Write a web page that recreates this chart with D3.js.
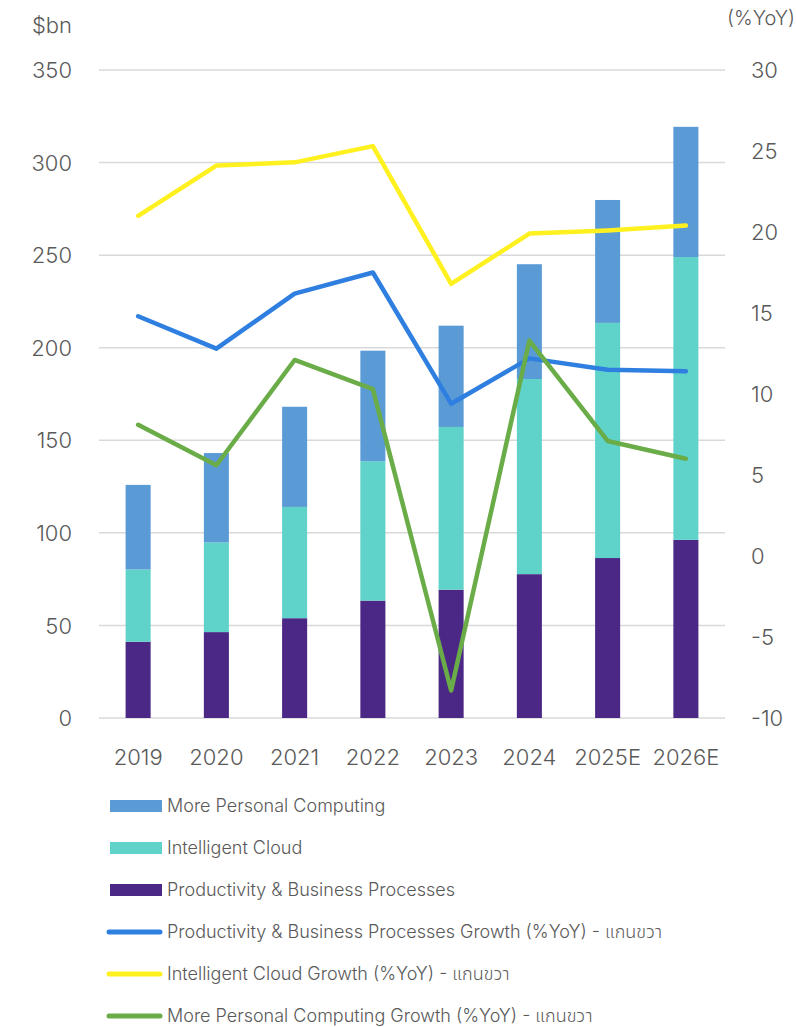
<!DOCTYPE html>
<html>
<head>
<meta charset="utf-8">
<script src="https://cdn.jsdelivr.net/npm/d3@7"></script>
<style>
  body { margin: 0; background: #fff; }
  text { font-family: Inter, "Noto Sans", "Noto Sans Thai", "DejaVu Sans", sans-serif; fill: #595959; font-weight: 300; }
</style>
</head>
<body>
<script>
// data
const years = ['2019', '2020', '2021', '2022', '2023', '2024', '2025E', '2026E']
const pbp = [41.2, 46.4, 53.9, 63.4, 69.3, 77.7, 86.4, 96.2]
const cloud = [39.0, 48.4, 60.1, 75.3, 87.9, 105.4, 127.0, 152.8]
const mpc = [45.7, 48.3, 54.1, 59.7, 54.7, 62.0, 66.4, 70.3]
const pbpGrowth = [14.8, 12.8, 16.2, 17.5, 9.4, 12.2, 11.5, 11.4]
const cloudGrowth = [21.0, 24.1, 24.3, 25.3, 16.8, 19.9, 20.1, 20.4]
const mpcGrowth = [8.1, 5.6, 12.1, 10.3, -8.3, 13.3, 7.1, 6.0]
const leftTicks = [0, 50, 100, 150, 200, 250, 300, 350]
const rightTicks = [-10, -5, 0, 5, 10, 15, 20, 25, 30]

const colors = { mpc: '#5b9bd5', cloud: '#5fd3ca', pbp: '#4b2885',
    pbpG: '#2f7fe0', cloudG: '#fff01f', mpcG: '#6aac47' }

function main(){
    var width = 796
    var height = 1027

    let svg = d3.select('body')
        .append('svg')
        .attr('width', width)
        .attr('height', height)

    let xScale = d3.scaleBand()
        .domain(years)
        .range([99, 725])
        .paddingInner(0.68)
        .paddingOuter(0.34)

    let yLeft = d3.scaleLinear().domain([0, 350]).range([718, 70])
    let yRight = d3.scaleLinear().domain([-10, 30]).range([718, 70])

    // gridlines
    svg.append('g')
        .selectAll('line')
        .data(leftTicks)
        .enter()
        .append('line')
        .attr('x1', 99)
        .attr('x2', 725)
        .attr('y1', d => yLeft(d))
        .attr('y2', d => yLeft(d))
        .attr('stroke', '#d9d9d9')
        .attr('stroke-width', 1.5)

    // axes
    let leftAxis = svg.append('g')
        .attr('transform', 'translate(72,0)')
        .call(d3.axisLeft(yLeft).tickValues(leftTicks).tickSize(0).tickPadding(0))
    leftAxis.select('.domain').remove()
    leftAxis.selectAll('text').attr('font-size', 22).attr('dy', '0.35em')

    let rightAxis = svg.append('g')
        .attr('transform', 'translate(751,0)')
        .call(d3.axisRight(yRight).tickValues(rightTicks).tickSize(0).tickPadding(0)
            .tickFormat(d => String(d)))
    rightAxis.select('.domain').remove()
    rightAxis.selectAll('text').attr('font-size', 22).attr('dy', '0.35em')

    let xAxis = svg.append('g')
        .attr('transform', 'translate(0,718)')
        .call(d3.axisBottom(xScale).tickSize(0).tickPadding(0))
    xAxis.select('.domain').remove()
    xAxis.selectAll('text').attr('font-size', 22).attr('dy', '47')

    svg.append('text').attr('x', 72).attr('y', 33).attr('text-anchor', 'end')
        .attr('font-size', 22).text('$bn')
    svg.append('text').attr('x', 795).attr('y', 25).attr('text-anchor', 'end')
        .attr('font-size', 20).text('(%YoY)')

    // stacked bars
    const rows = years.map((y, i) => ({ year: y, pbp: pbp[i], cloud: cloud[i], mpc: mpc[i] }))
    const stack = d3.stack().keys(['pbp', 'cloud', 'mpc'])(rows)

    svg.append('g')
        .selectAll('g')
        .data(stack)
        .enter()
        .append('g')
        .attr('fill', d => colors[d.key])
        .selectAll('rect')
        .data(d => d)
        .enter()
        .append('rect')
        .attr('x', d => xScale(d.data.year))
        .attr('width', xScale.bandwidth())
        .attr('y', d => yLeft(d[1]))
        .attr('height', d => yLeft(d[0]) - yLeft(d[1]))

    // growth lines on right axis
    const line = d3.line()
        .x((d, i) => xScale(years[i]) + xScale.bandwidth() / 2)
        .y(d => yRight(d))

    const series = [
        { vals: pbpGrowth, color: colors.pbpG },
        { vals: cloudGrowth, color: colors.cloudG },
        { vals: mpcGrowth, color: colors.mpcG }
    ]
    svg.append('g')
        .selectAll('path')
        .data(series)
        .enter()
        .append('path')
        .attr('d', d => line(d.vals))
        .attr('fill', 'none')
        .attr('stroke', d => d.color)
        .attr('stroke-width', 4.5)
        .attr('stroke-linejoin', 'round')
        .attr('stroke-linecap', 'round')

    // legend
    const legendItems = [
        { label: 'More Personal Computing', color: colors.mpc, type: 'bar' },
        { label: 'Intelligent Cloud', color: colors.cloud, type: 'bar' },
        { label: 'Productivity & Business Processes', color: colors.pbp, type: 'bar' },
        { label: 'Productivity & Business Processes Growth (%YoY) - แกนขวา', color: colors.pbpG, type: 'line' },
        { label: 'Intelligent Cloud Growth (%YoY) - แกนขวา', color: colors.cloudG, type: 'line' },
        { label: 'More Personal Computing Growth (%YoY) - แกนขวา', color: colors.mpcG, type: 'line' }
    ]
    const lg = svg.append('g')
        .selectAll('g')
        .data(legendItems)
        .enter()
        .append('g')
        .attr('transform', (d, i) => `translate(0,${806 + i * 42})`)

    lg.filter(d => d.type == 'bar')
        .append('rect')
        .attr('x', 110).attr('y', -6)
        .attr('width', 52).attr('height', 12)
        .attr('fill', d => d.color)
    lg.filter(d => d.type == 'line')
        .append('line')
        .attr('x1', 109).attr('x2', 160)
        .attr('y1', 0).attr('y2', 0)
        .attr('stroke', d => d.color)
        .attr('stroke-width', 5)
        .attr('stroke-linecap', 'round')
    lg.append('text')
        .attr('x', 167)
        .attr('dy', '0.35em')
        .attr('font-size', 18)
        .text(d => d.label)
}

main()
</script>
</body>
</html>
